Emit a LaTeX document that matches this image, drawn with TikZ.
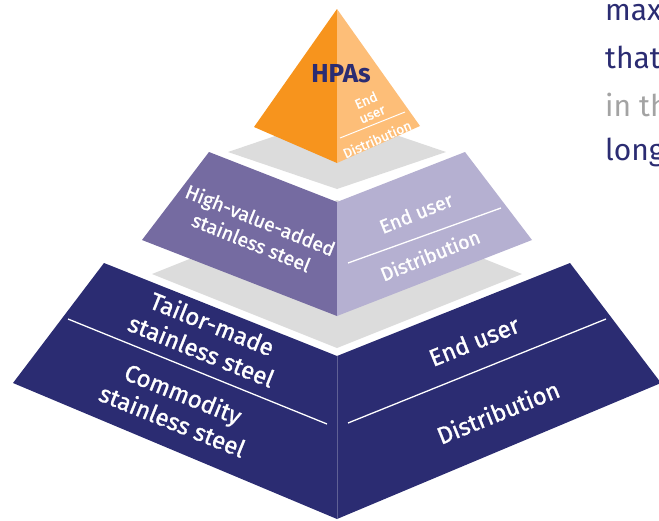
\documentclass[tikz,border=0pt]{standalone}
\usepackage{fontspec}
\setmainfont{Fira Sans}
\newfontfamily\facefont[FakeBold=1.2]{Fira Sans}
\definecolor{navy}{HTML}{2B2C72}
\definecolor{orangeL}{HTML}{F7941D}
\definecolor{orangeR}{HTML}{FDBE78}
\definecolor{purpL}{HTML}{756BA1}
\definecolor{purpR}{HTML}{B5B0D1}
\definecolor{shadow}{HTML}{DCDCDC}
\definecolor{softgray}{HTML}{A3A3A3}
\begin{document}
\begin{tikzpicture}[x=1pt,y=-1pt,
  facetext/.style={text=white, align=center, inner sep=0pt},
  small/.style={facetext, font=\facefont\fontsize{13.5}{14}\selectfont},
  mid/.style={facetext, font=\facefont\fontsize{19.5}{24}\selectfont},
  big/.style={facetext, font=\facefont\fontsize{24}{29}\selectfont},
  sepline/.style={white, line width=1.3pt},
  para/.style={anchor=base west, inner sep=0pt, font=\fontsize{30}{32}\selectfont}]
\useasboundingbox (0,0) rectangle (659,520);

% ---------- paragraph fragment at right edge ----------
\begin{scope}
\clip (0,0) rectangle (659,520);
\node[para, text=navy] (p1) at (605,20) {max};
\node[para, text=navy] (p2) at (605,68) {that};
\node[para, text=softgray] (p3) at (605,116) {in th};
\node[para, text=navy] (p4) at (605,160) {long};
\end{scope}

% ---------- coordinates ----------
% bottom tier
\coordinate (nTL) at (104,263);
\coordinate (nL) at (13,383);
\coordinate (nTC) at (337,356);
\coordinate (nB) at (337,519);
\coordinate (nTR) at (570,263);
\coordinate (nR) at (661,383);
% lower shadow
\coordinate (g2L) at (152,274);
\coordinate (g2B) at (337,348);
\coordinate (g2R) at (522,274);
\coordinate (g2T) at (337,200);
% middle tier
\coordinate (mTL) at (209,152);
\coordinate (mL) at (142,240);
\coordinate (mTC) at (337,202);
\coordinate (mB) at (337,316);
\coordinate (mTR) at (465,152);
\coordinate (mR) at (532,240);
% upper shadow
\coordinate (g1L) at (228,152);
\coordinate (g1B) at (337,189);
\coordinate (g1R) at (446,152);
\coordinate (g1T) at (337,115);
% top pyramid
\coordinate (oA) at (337,9);
\coordinate (oL) at (254,127);
\coordinate (oF) at (337,163);
\coordinate (oR) at (420,126);

% ---------- bottom tier ----------
\fill[shadow] (g2L) -- (g2T) -- (g2R) -- (g2B) -- cycle;
\fill[navy] (nTL) -- (nTC) -- (nB) -- (nL) -- cycle;
\fill[navy] (nTR) -- (nTC) -- (nB) -- (nR) -- cycle;
\draw[color=navy!75!white, line width=0.6pt] (nTC) -- (nB);
\coordinate (s1a) at (68,319);
\coordinate (s1b) at (327,424);
\coordinate (s2a) at (348,423);
\coordinate (s2b) at (606,319);
\draw[sepline] (s1a) -- (s1b);
\draw[sepline] (s2a) -- (s2b);
\node[big, rotate=-22] (tailor) at (207,337) {Tailor-made\\stainless steel};
\node[big, rotate=-22] (commodity) at (178,407) {Commodity\\stainless steel};
\node[big, rotate=22] (nEnd) at (474,341) {End user};
\node[big, rotate=22] (nDist) at (498,412) {Distribution};

% ---------- middle tier ----------
\fill[shadow] (g1L) -- (g1T) -- (g1R) -- (g1B) -- cycle;
\fill[purpL] (mTL) -- (mTC) -- (mB) -- (mL) -- cycle;
\fill[purpR] (mTR) -- (mTC) -- (mB) -- (mR) -- cycle;
\coordinate (s3a) at (348,263);
\coordinate (s3b) at (501,208);
\draw[sepline] (s3a) -- (s3b);
\node[mid, rotate=-22] (hva) at (256,231) {High-value-added\\stainless steel};
\node[mid, rotate=22] (mEnd) at (416,213) {End user};
\node[mid, rotate=22] (mDist) at (430,255) {Distribution};

% ---------- top pyramid ----------
\fill[orangeL] (oA) -- (oL) -- (oF) -- cycle;
\fill[orangeR] (oA) -- (oR) -- (oF) -- cycle;
\coordinate (s4a) at (340,138);
\coordinate (s4b) at (405,112);
\draw[white, line width=1pt] (s4a) -- (s4b);
\node[inner sep=0pt, text=navy, font=\fontsize{26}{28}\selectfont\bfseries] (hpas) at (341,74) {HPAs};
\node[small, rotate=24, font=\facefont\fontsize{13.5}{15}\selectfont] (oEnd) at (369,107) {End\\user};
\node[small, rotate=24] (oDist) at (377,139) {Distribution};
\end{tikzpicture}
\end{document}
